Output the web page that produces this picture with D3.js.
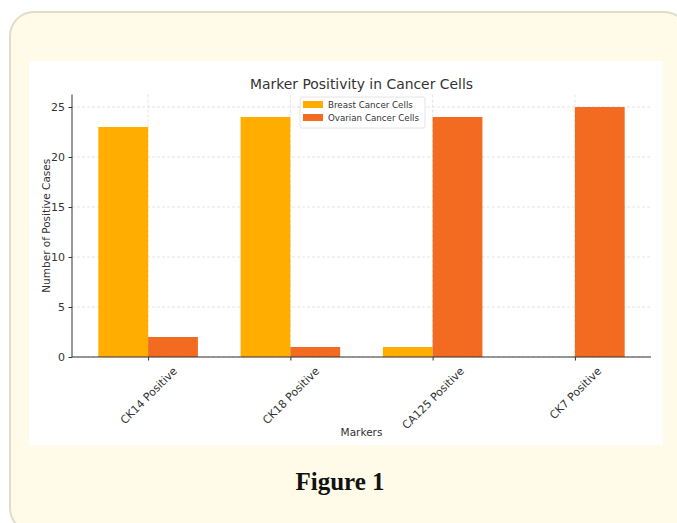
<!DOCTYPE html>
<html><head><meta charset="utf-8">
<script src="https://cdn.jsdelivr.net/npm/d3@7/dist/d3.min.js"></script>
<style>
html,body{margin:0;padding:0;background:#fff;}
svg{display:block;}
</style></head>
<body>
<script>
const categories = ["CK14 Positive", "CK18 Positive", "CA125 Positive", "CK7 Positive"];
const seriesNames = ["Breast Cancer Cells", "Ovarian Cancer Cells"];
const breastValues = [23, 24, 1, 0];
const ovarianValues = [2, 1, 24, 25];
const yTicks = [0, 5, 10, 15, 20, 25];
const colors = ["#ffae00", "#f26b21"];

const W = 677, H = 523;
const svg = d3.select("body").append("svg").attr("width", W).attr("height", H);

// card
svg.append("rect").attr("x", 10).attr("y", 12).attr("width", 678).attr("height", 520)
  .attr("rx", 24).attr("ry", 24).attr("fill", "#fffbe8").attr("stroke", "#dedfcb").attr("stroke-width", 2);
// chart image background
svg.append("rect").attr("x", 29).attr("y", 61).attr("width", 634).attr("height", 384).attr("fill", "#ffffff");

const L = 72, R = 651, T = 94.5, B = 357;
const n = categories.length;
const xMin = -0.35, xMax = n - 1 + 0.35, pad = (xMax - xMin) * 0.05;
const x = d3.scaleLinear().domain([xMin - pad, xMax + pad]).range([L, R]);
const y = d3.scaleLinear().domain([0, 26.25]).range([B, T]);
const bw = 0.35;

const g = svg.append("g");
g.selectAll(".hg").data(yTicks).join("line")
  .attr("x1", L).attr("x2", R).attr("y1", d => y(d)).attr("y2", d => y(d))
  .attr("stroke", "#dcdcdc").attr("stroke-width", 0.8).attr("stroke-dasharray", "3,2");
g.selectAll(".vg").data(categories).join("line")
  .attr("x1", (d, i) => x(i)).attr("x2", (d, i) => x(i)).attr("y1", T).attr("y2", B)
  .attr("stroke", "#dcdcdc").attr("stroke-width", 0.8).attr("stroke-dasharray", "3,2");

const series = [breastValues, ovarianValues];
series.forEach((vals, s) => {
  g.selectAll(".bar" + s).data(vals).join("rect")
    .attr("x", (d, i) => x(i + (s === 0 ? -bw : 0)))
    .attr("width", x(bw) - x(0))
    .attr("y", d => y(d))
    .attr("height", d => B - y(d))
    .attr("fill", colors[s]);
});

const FS = 10.5, TFS = 11;
const yAxis = d3.axisLeft(y).tickValues(yTicks).tickSize(3.5).tickPadding(3.5);
const ya = svg.append("g").attr("transform", `translate(${L},0)`).call(yAxis);
ya.select(".domain").attr("d", `M0,${T}V${B}`).attr("stroke", "#333").attr("stroke-width", 1);
ya.selectAll(".tick line").attr("stroke", "#333");
ya.selectAll(".tick text").attr("font-family", "DejaVu Sans").attr("font-size", TFS).attr("fill", "#333");

const xAxis = d3.axisBottom(x).tickValues(d3.range(n)).tickFormat(i => categories[i]).tickSize(3.5).tickPadding(3);
const xa = svg.append("g").attr("transform", `translate(0,${B})`).call(xAxis);
xa.select(".domain").attr("d", `M${L},0H${R}`).attr("stroke", "#333").attr("stroke-width", 1);
xa.selectAll(".tick line").attr("stroke", "#333");
xa.selectAll(".tick text").attr("font-family", "DejaVu Sans").attr("font-size", TFS).attr("fill", "#333")
  .attr("text-anchor", "middle").attr("dy", "0.35em").attr("y", 0)
  .each(function() {
    const len = this.getComputedTextLength();
    const half = (len + TFS * 1.17) * Math.SQRT1_2 / 2;
    d3.select(this).attr("transform", `translate(0,${7.5 + half}) rotate(-45)`);
  });

svg.append("text").attr("x", (L + R) / 2).attr("y", 89).attr("text-anchor", "middle")
  .attr("font-family", "DejaVu Sans").attr("font-size", 13.9).attr("fill", "#333").text("Marker Positivity in Cancer Cells");
svg.append("text").attr("x", (L + R) / 2).attr("y", 436).attr("text-anchor", "middle")
  .attr("font-family", "DejaVu Sans").attr("font-size", FS).attr("fill", "#333").text("Markers");
svg.append("text").attr("transform", `translate(50,${(T + B) / 2}) rotate(-90)`).attr("text-anchor", "middle")
  .attr("font-family", "DejaVu Sans").attr("font-size", FS).attr("fill", "#333").text("Number of Positive Cases");

const lg = svg.append("g").attr("transform", "translate(300,97)");
lg.append("rect").attr("width", 125).attr("height", 31).attr("rx", 2).attr("fill", "#fff").attr("fill-opacity", 0.85)
  .attr("stroke", "#ddd").attr("stroke-width", 0.8);
seriesNames.forEach((nm, i) => {
  lg.append("rect").attr("x", 3).attr("y", 4 + i * 13).attr("width", 20).attr("height", 7).attr("fill", colors[i]);
  lg.append("text").attr("x", 28).attr("y", 11 + i * 13).attr("font-family", "DejaVu Sans").attr("font-size", 8.7)
    .attr("fill", "#333").text(nm);
});

svg.append("text").attr("x", 340).attr("y", 490).attr("text-anchor", "middle")
  .attr("font-family", "Liberation Serif").attr("font-weight", "bold").attr("font-size", 25).attr("fill", "#111").text("Figure 1");
</script>
</body></html>
